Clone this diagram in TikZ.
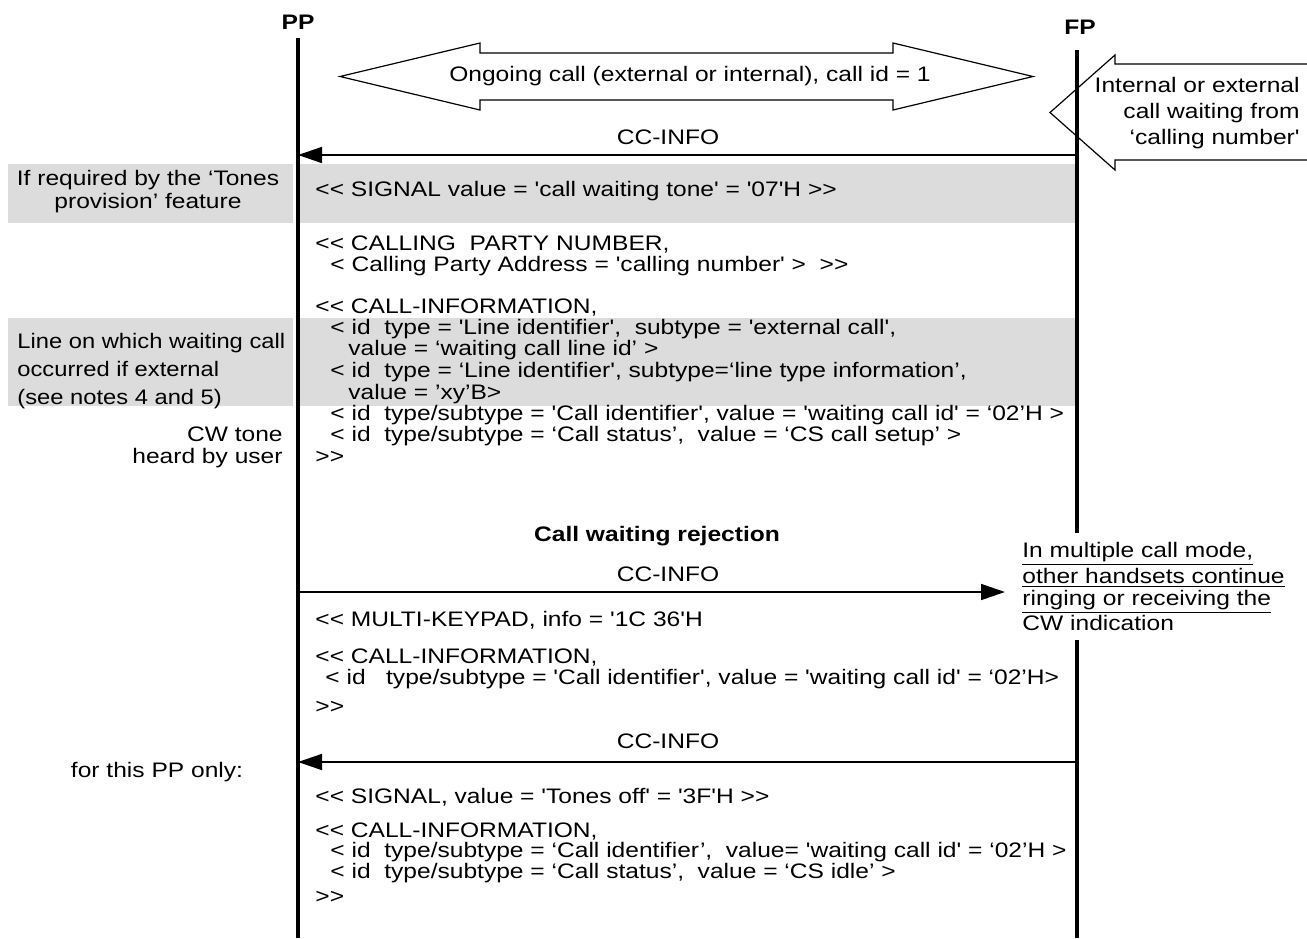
\documentclass[tikz,border=0pt]{standalone}
\usepackage{fontspec}
\newfontfamily\msgfont{Liberation Sans}[FakeStretch=1.17]
\newfontfamily\sidefont{Liberation Sans}[FakeStretch=1.13]
\newcommand\msgsize{\fontsize{10.5}{12.6}\selectfont}
\usetikzlibrary{arrows.meta}
\definecolor{bandgray}{HTML}{DCDCDC}
\begin{document}
\msgfont\msgsize
\begin{tikzpicture}[x=0.5pt,y=-0.5pt,>={Triangle[length=12pt,width=8pt]}]
\tikzset{txt/.style={anchor=base west,inner sep=0pt},
  rtxt/.style={anchor=base east,inner sep=0pt},
  ctxt/.style={anchor=base,inner sep=0pt},
  msg/.style={->,line width=0.8pt},
  life/.style={line width=1.6pt}}
\useasboundingbox (0,0) rectangle (1307,938);
% grey bands
\fill[bandgray] (8,164) rectangle (293,223);
\fill[bandgray] (300,164) rectangle (1075,223);
\fill[bandgray] (8,318) rectangle (293,406);
\fill[bandgray] (300,318) rectangle (1075,406);
% entities and lifelines
\node[font=\bfseries] (pp) at (298,22) {PP};
\node[font=\bfseries] (fp) at (1080,27) {FP};
\coordinate (pptop) at (298,38); \coordinate (ppbot) at (298,938);
\coordinate (fptop) at (1077,50); \coordinate (fpbot) at (1077,938);
\draw[life] (pptop) -- (ppbot);
\draw[life] (fptop) -- (fpbot);
% block arrows
\draw[line width=0.6pt] (340,76.5) -- (480,43) -- (480,53) -- (893,53) -- (893,43) -- (1033,76.5)
  -- (893,110) -- (893,100) -- (480,100) -- (480,110) -- cycle;
\node (ongoing) at (690,76.5) {Ongoing call (external or internal), call id = 1};
\draw[line width=0.6pt] (1307,64) -- (1115,64) -- (1115,55) -- (1050,112.5) -- (1115,170) -- (1115,160) -- (1307,160);
\node[align=right,anchor=east,inner sep=0pt,font=\fontsize{10.5}{13}\selectfont] (waiting) at (1300,113)
  {Internal or external\\call waiting from\\‘calling number'};
% first CC-INFO
\coordinate (fp1) at (1077,155); \coordinate (pp1) at (298,155);
\draw[msg] (fp1) -- (pp1);
\node[ctxt] (m1) at (668,144) {CC-INFO};
\node[ctxt] (tones1) at (148,185) {If required by the ‘Tones};
\node[ctxt] (tones2) at (148,208) {provision’ feature};
\node[txt] (s1) at (315,196) {<< SIGNAL value = 'call waiting tone' = '07'H >>};
\node[txt] (s2) at (315,250) {<< CALLING\ \ PARTY NUMBER,};
\node[txt] (s3) at (330,271) {< Calling Party Address = 'calling number' >\ \ >>};
\node[txt] (s4) at (315,313) {<< CALL-INFORMATION,};
\node[txt] (s5) at (330,334) {< id\ \ type = 'Line identifier',\ \ subtype = 'external call',};
\node[txt] (s6) at (348,355) {value = ‘waiting call line id’ >};
\node[txt] (s7) at (330,377) {< id\ \ type = ‘Line identifier', subtype=‘line type information’,};
\node[txt] (s8) at (348,399) {value = ’xy’B>};
\node[txt] (s9) at (330,420) {< id\ \ type/subtype = 'Call identifier', value = 'waiting call id' = ‘02’H >};
\node[txt] (s10) at (330,441) {< id\ \ type/subtype = ‘Call status’,\ \ value = ‘CS call setup’ >};
\node[txt] (s11) at (315,463) {>>};
\node[txt,font=\sidefont] (line1) at (17,348) {Line on which waiting call};
\node[txt,font=\sidefont] (line2) at (17,376) {occurred if external};
\node[txt,font=\sidefont] (line3) at (17,404) {(see notes 4 and 5)};
\node[rtxt] (cw1) at (283,441) {CW tone};
\node[rtxt] (cw2) at (283,463) {heard by user};
% rejection
\node[ctxt,font=\bfseries] (reject) at (657,541) {Call waiting rejection};
\coordinate (pp2) at (298,592); \coordinate (nt) at (1005,592);
\draw[msg] (pp2) -- (nt);
\node[ctxt] (m2) at (668,581) {CC-INFO};
\node[fill=white,align=left,anchor=north west,inner xsep=2pt,inner ysep=4.5pt,font=\fontsize{10.5}{11}\selectfont] (note) at (1018,533)
  {\underline{In multiple call mode,}\\\underline{other handsets continue}\\\underline{ringing or receiving the}\\CW indication};
\node[txt] (k1) at (315,626) {<< MULTI-KEYPAD, info = '1C 36'H};
\node[txt] (k2) at (315,663) {<< CALL-INFORMATION,};
\node[txt] (k3) at (325,684) {< id\ \ \ type/subtype = 'Call identifier', value = 'waiting call id' = ‘02’H>};
\node[txt] (k4) at (315,713) {>>};
% tones off
\coordinate (fp3) at (1077,762); \coordinate (pp3) at (298,762);
\draw[msg] (fp3) -- (pp3);
\node[ctxt] (m3) at (668,748) {CC-INFO};
\node[ctxt] (only) at (157,777) {for this PP only:};
\node[txt] (t1) at (315,803) {<< SIGNAL, value = 'Tones off' = '3F'H >>};
\node[txt] (t2) at (315,837) {<< CALL-INFORMATION,};
\node[txt] (t3) at (330,857) {< id\ \ type/subtype = ‘Call identifier’,\ \ value= 'waiting call id' = ‘02’H >};
\node[txt] (t4) at (330,878) {< id\ \ type/subtype = ‘Call status’,\ \ value = ‘CS idle’ >};
\node[txt] (t5) at (315,903) {>>};
\end{tikzpicture}
\end{document}
